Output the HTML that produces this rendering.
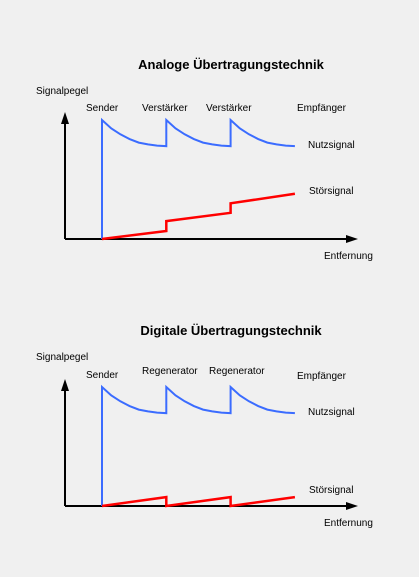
<!DOCTYPE html>
<html><head><meta charset="utf-8"><style>
html,body{margin:0;padding:0;background:#f0f0f0;}
svg{display:block;font-family:"Liberation Sans",sans-serif;}
text{font-size:10px;fill:#000;}
.t{font-size:13px;font-weight:bold;}
</style></head><body>
<svg id="s" width="419" height="577">
<text class="t" x="231" y="69" text-anchor="middle">Analoge Übertragungstechnik</text>
<text x="36" y="94">Signalpegel</text>
<text x="86" y="111">Sender</text>
<text x="142" y="111">Verstärker</text>
<text x="206" y="111">Verstärker</text>
<text x="297" y="111">Empfänger</text>
<text x="308" y="148">Nutzsignal</text>
<text x="309" y="194">Störsignal</text>
<text x="324" y="259">Entfernung</text>
<text class="t" x="231" y="335" text-anchor="middle">Digitale Übertragungstechnik</text>
<text x="36" y="360">Signalpegel</text>
<text x="86" y="378">Sender</text>
<text x="142" y="374">Regenerator</text>
<text x="209" y="374">Regenerator</text>
<text x="297" y="379">Empfänger</text>
<text x="308" y="415">Nutzsignal</text>
<text x="309" y="493">Störsignal</text>
<text x="324" y="526">Entfernung</text>
</svg>
<script>
// stage boundaries (distance units 0..3)
const stages = [0, 1, 2, 3];
// useful signal decay samples within one segment (level units, axis 0..100)
const decaySamples = [100, 93, 88, 84, 81, 79.5, 78.5, 78];
// analog noise: [start, end] per segment
const analogNoise = [[0, 6.7], [15, 22], [30, 38]];
// digital noise: [start, end] per segment
const digitalNoise = [[0, 7.5], [0, 7.5], [0, 7.5]];

const NS = 'http://www.w3.org/2000/svg';
const svg = document.getElementById('s');
function mk(tag, attrs) {
  const e = document.createElementNS(NS, tag);
  for (const k in attrs) e.setAttribute(k, attrs[k]);
  svg.appendChild(e);
  return e;
}
function drawChart(prefix, baseY, topY, noise) {
  const x0 = 102, seg = 64.3, scale = 1.19;
  const X = d => x0 + d * seg;
  const Y = v => baseY - v * scale;
  // axes
  let a = mk('line', {x1: 65, y1: baseY, x2: 350, y2: baseY, stroke: '#000', 'stroke-width': 2});
  
  
  a = mk('polygon', {points: `358,${baseY} 346,${baseY-4} 346,${baseY+4}`, fill: '#000'});
  
  
  a = mk('line', {x1: 65, y1: baseY, x2: 65, y2: topY + 8, stroke: '#000', 'stroke-width': 2});
  
  
  a = mk('polygon', {points: `65,${topY} 61,${topY+12} 69,${topY+12}`, fill: '#000'});
  
  
  // useful signal
  let d = `M${X(stages[0])},${Y(0)}`;
  for (let i = 0; i < stages.length - 1; i++) {
    const n = decaySamples.length - 1;
    decaySamples.forEach((v, j) => {
      const dx = stages[i] + (stages[i + 1] - stages[i]) * j / n;
      d += ` L${X(dx)},${Y(v)}`;
    });
  }
  const b = mk('path', {d: d, fill: 'none', stroke: '#3b6cff', 'stroke-width': 2});
  
  
  // noise
  let r = '';
  noise.forEach((p, i) => {
    r += (i === 0 ? 'M' : ' L') + `${X(stages[i])},${Y(p[0])} L${X(stages[i + 1])},${Y(p[1])}`;
  });
  const n = mk('path', {d: r, fill: 'none', stroke: '#ff0000', 'stroke-width': 2.5});
  
  
}
drawChart('analog', 239, 112, analogNoise);
drawChart('digital', 506, 379, digitalNoise);
</script>
</body></html>
